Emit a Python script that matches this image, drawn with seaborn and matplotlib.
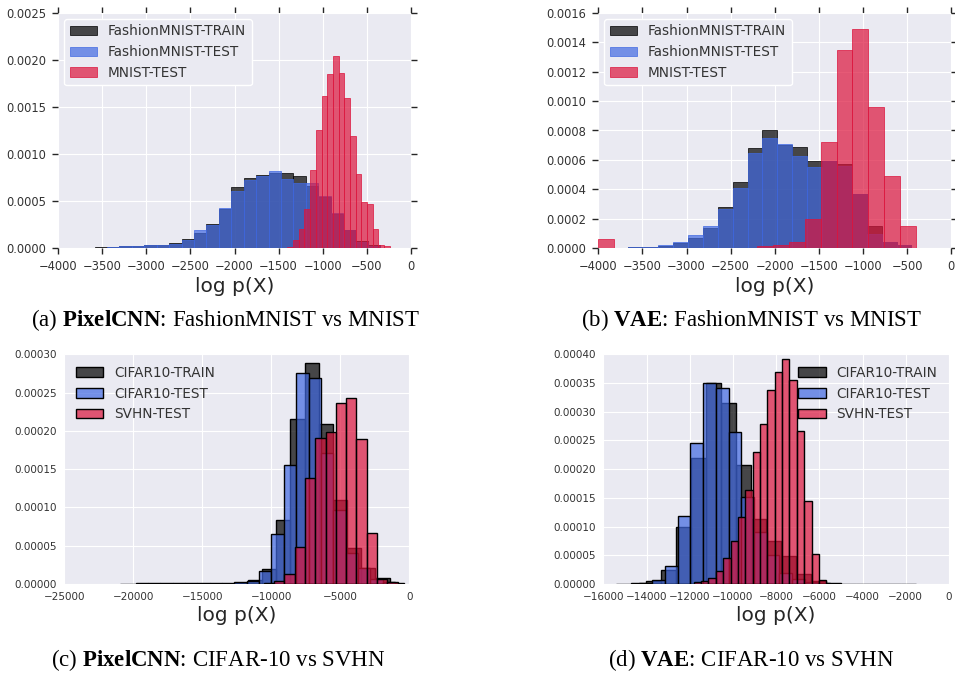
import numpy as np
import pandas as pd
import matplotlib
matplotlib.use("Agg")
import matplotlib.pyplot as plt
import seaborn as sns
from matplotlib.ticker import FormatStrFormatter, MultipleLocator

# ---------------- data (bin ranges in log p(X), densities) ----------------
# (a) PixelCNN: FashionMNIST vs MNIST
a_fm_range = (-3588, -345)
a_fm_train = [0.00001, 0.00001, 0.00002, 0.000025, 0.000035, 0.00004, 0.00006, 0.000095,
              0.00016, 0.00026, 0.00042, 0.00065, 0.00075, 0.00078, 0.0008, 0.0008,
              0.00077, 0.00066, 0.00054, 0.00036, 0.00019, 0.00008, 0.00003]
a_fm_test = [0.000005, 0.00001, 0.00002, 0.00002, 0.00003, 0.00004, 0.00005, 0.00009,
             0.000195, 0.00025, 0.00043, 0.00061, 0.00072, 0.00077, 0.00082, 0.00074,
             0.00069, 0.00069, 0.00056, 0.00037, 0.00019, 0.00007, 0.00002]
a_mn_range = (-1400, -237)
a_mn_test = [0.00001, 0.00009, 0.00021, 0.00042, 0.00083, 0.00126, 0.00162, 0.00185,
             0.00204, 0.00186, 0.0016, 0.00119, 0.00079, 0.00049, 0.00047, 0.00021,
             0.00003, 0.00002]

# (b) VAE: FashionMNIST vs MNIST
b_fm_range = (-3660, -449)
b_fm_train = [0.000007, 0.000011, 0.000018, 0.000034, 0.000073, 0.00014, 0.00028, 0.00045,
              0.00068, 0.0008, 0.0007, 0.00069, 0.00059, 0.00059, 0.00057, 0.00037,
              0.00015, 0.000045, 0.00002]
b_fm_test = [0.000007, 0.000011, 0.000023, 0.000043, 0.000087, 0.00015, 0.00027, 0.00041,
             0.00065, 0.00075, 0.00071, 0.00063, 0.00055, 0.00059, 0.00056, 0.00037,
             0.0001, 0.000045, 0.00002]
b_mn_range = (-4000, -398)
b_mn_test = [0.00006, 0.0, 0.000005, 0.000005, 0.000005, 0.000005, 0.000005, 0.000005,
             0.000005, 0.000005, 0.000015, 0.00002, 0.000043, 0.0002, 0.00072, 0.00135,
             0.00149, 0.00096, 0.00049, 0.000154]

# (c) PixelCNN: CIFAR-10 vs SVHN
c_cf_train_range = (-20935, -396)
c_cf_train = [0.0000005, 0.0000005, 0.0000005, 0.0000005, 0.0000005, 0.0000005, 0.0000005,
              0.0000005, 0.0000017, 0.000005, 0.00002, 0.000084, 0.000216, 0.000289,
              0.000209, 0.00011, 0.0000466, 0.0000205, 0.0000074, 0.0000017]
c_cf_test_range = (-19834, -1039)
c_cf_test = [0.000001, 0.000001, 0.000001, 0.000001, 0.000001, 0.000001, 0.000001, 0.000001,
             0.000002, 0.0000044, 0.000017, 0.000065, 0.000156, 0.000276, 0.000269,
             0.000171, 0.000097, 0.000041, 0.0000205, 0.000006, 0.000002]
c_sv_range = (-10554, -843)
c_sv_test = [0.000001, 0.0000043, 0.000013, 0.0000478, 0.000138, 0.000191, 0.000198,
             0.000236, 0.000243, 0.000189, 0.0000665, 0.0000065, 0.000002]

# (d) VAE: CIFAR-10 vs SVHN
d_cf_train_range = (-15409, -1529)
d_cf_train = [0.0000005, 0.000002, 0.000006, 0.000024, 0.0001, 0.00022, 0.00035, 0.000316,
              0.000207, 0.000114, 0.000075, 0.000048, 0.000018, 0.000005, 0.000002,
              0.0000008, 0.0000005, 0.0000005, 0.0000005, 0.0000005]
d_cf_test_range = (-14333, -5483)
d_cf_test = [0.000001, 0.0000064, 0.000032, 0.000118, 0.000245, 0.00035, 0.000342, 0.000264,
             0.000152, 0.00009, 0.00005, 0.00002, 0.0000093, 0.000003, 0.000001]
d_sv_range = (-11815, -5676)
d_sv_test = [0.000003, 0.0000057, 0.0000103, 0.0000218, 0.0000448, 0.0000753, 0.000117,
             0.000163, 0.000229, 0.000279, 0.000337, 0.00037, 0.000391, 0.000356, 0.000266,
             0.000144, 0.0000523, 0.0000063]

fm_labels = ["FashionMNIST-TRAIN", "FashionMNIST-TEST", "MNIST-TEST"]
cf_labels = ["CIFAR10-TRAIN", "CIFAR10-TEST", "SVHN-TEST"]
captions = [("(a) ", "PixelCNN", ": FashionMNIST vs MNIST"),
            ("(b) ", "VAE", ": FashionMNIST vs MNIST"),
            ("(c) ", "PixelCNN", ": CIFAR-10 vs SVHN"),
            ("(d) ", "VAE", ": CIFAR-10 vs SVHN")]

# ---------------- style ----------------
sns.set_style("darkgrid")
plt.rcParams["font.family"] = ["DejaVu Sans"]
plt.rcParams["mathtext.fontset"] = "custom"
plt.rcParams["mathtext.rm"] = "Liberation Serif"
plt.rcParams["mathtext.bf"] = "Liberation Serif:bold"

COLORS = ["black", "royalblue", "crimson"]
W, H = 955, 673
fig = plt.figure(figsize=(W / 100, H / 100), dpi=100)


def add_ax(left, top, right, bottom):
    return fig.add_axes([left / W, 1 - bottom / H, (right - left) / W, (bottom - top) / H])


def hist(ax, rng, vals, color, label, edge, lw):
    edges = np.linspace(rng[0], rng[1], len(vals) + 1)
    df = pd.DataFrame({"logp": (edges[:-1] + edges[1:]) / 2, "density": vals})
    sns.histplot(data=df, x="logp", weights="density", bins=edges.tolist(), ax=ax, color=color,
                 alpha=0.7, edgecolor=edge if edge else color, linewidth=lw, label=label)


panels = [
    dict(box=(58.3, 12.7, 410.7, 248.3), series=[(a_fm_range, a_fm_train), (a_fm_range, a_fm_test), (a_mn_range, a_mn_test)],
         labels=fm_labels, xlim=(-4000, 0), ylim=(0, 0.0025), xstep=500, ystep=0.0005, fmt="%.4f",
         edge=None, lw=0.5, ticks=True, legend=dict(loc="upper left", frame=True)),
    dict(box=(598.3, 12.7, 951.1, 248.3), series=[(b_fm_range, b_fm_train), (b_fm_range, b_fm_test), (b_mn_range, b_mn_test)],
         labels=fm_labels, xlim=(-4000, 0), ylim=(0, 0.0016), xstep=500, ystep=0.0002, fmt="%.4f",
         edge=None, lw=0.5, ticks=True, legend=dict(loc="upper left", frame=True)),
    dict(box=(64.3, 354.3, 409.3, 584.0), series=[(c_cf_train_range, c_cf_train), (c_cf_test_range, c_cf_test), (c_sv_range, c_sv_test)],
         labels=cf_labels, xlim=(-25000, 0), ylim=(0, 0.0003), xstep=5000, ystep=0.00005, fmt="%.5f",
         edge="black", lw=1.0, ticks=False, legend=dict(loc="upper left", frame=False)),
    dict(box=(603.3, 354.3, 948.9, 584.0), series=[(d_cf_train_range, d_cf_train), (d_cf_test_range, d_cf_test), (d_sv_range, d_sv_test)],
         labels=cf_labels, xlim=(-16000, 0), ylim=(0, 0.0004), xstep=2000, ystep=0.00005, fmt="%.5f",
         edge="black", lw=1.0, ticks=False, legend=dict(loc="upper right", frame=False)),
]

for p in panels:
    ax = add_ax(*p["box"])
    for (rng, vals), col, lab in zip(p["series"], COLORS, p["labels"]):
        hist(ax, rng, vals, col, lab, p["edge"], p["lw"])
    ax.set_xlim(*p["xlim"])
    ax.set_ylim(*p["ylim"])
    ax.xaxis.set_major_locator(MultipleLocator(p["xstep"]))
    ax.yaxis.set_major_locator(MultipleLocator(p["ystep"]))
    ax.yaxis.set_major_formatter(FormatStrFormatter(p["fmt"]))
    ax.set_ylabel("")
    ax.set_xlabel("log p(X)", fontsize=14.5, color="#262626", labelpad=3)
    for s in ax.spines.values():
        s.set_visible(False)
    if p["ticks"]:
        ax.tick_params(axis="both", which="major", direction="out", length=4.5, width=1,
                       color="#262626", bottom=True, left=True, top=True, right=True,
                       labelsize=8.3, labelcolor="#333333", pad=4)
    else:
        ax.tick_params(axis="both", which="major", length=0, labelsize=7.5,
                       labelcolor="#333333", pad=5.5)
    leg = ax.legend(loc=p["legend"]["loc"], frameon=p["legend"]["frame"], fontsize=9.8,
                    borderaxespad=0.45, handlelength=2.0, labelspacing=0.5, handletextpad=0.8)
    if p["legend"]["frame"]:
        fr = leg.get_frame()
        fr.set_facecolor("#EAEAF2")
        fr.set_edgecolor("white")
        fr.set_linewidth(1.0)
        fr.set_alpha(1)
    for t in leg.get_texts():
        t.set_color("#333333")

cap_pos = [(226, 326), (751, 326), (218, 666), (751, 666)]
for (pre, bold, post), (cx, cy) in zip(captions, cap_pos):
    fig.text(cx / W, 1 - cy / H, pre + r"$\mathbf{" + bold + "}$" + post,
             ha="center", va="baseline", fontsize=16.5, family="Liberation Serif", color="black")

fig.savefig("out.png", dpi=100, facecolor="white")
